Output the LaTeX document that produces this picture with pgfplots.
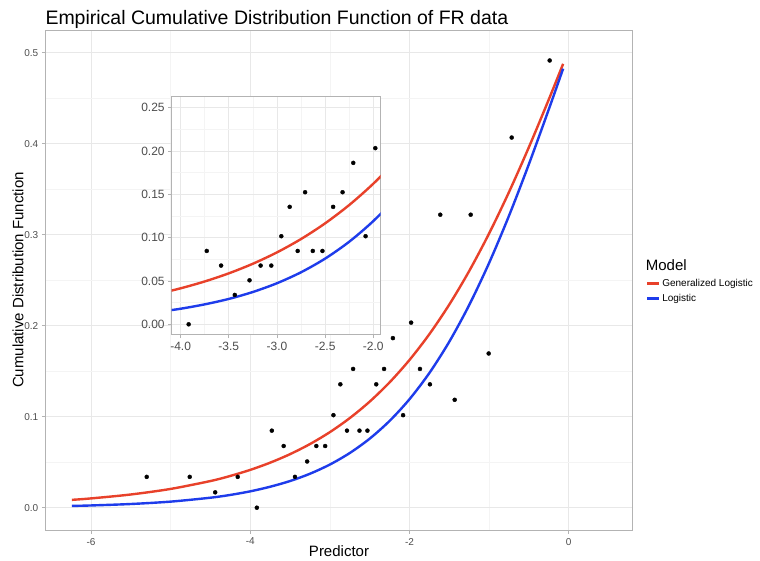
\documentclass[border=0pt]{standalone}
\usepackage{fontspec}
\setmainfont{Liberation Sans}
\usepackage{pgfplots}
\pgfplotsset{compat=1.18}
\usepackage{pgfplotstable}

\definecolor{glred}{RGB}{232,65,42}
\definecolor{lgblue}{RGB}{30,60,235}
\definecolor{ticktext}{RGB}{77,77,77}
\definecolor{gridmajor}{RGB}{232,232,232}
\definecolor{gridminor}{RGB}{244,244,244}
\definecolor{panelline}{RGB}{179,179,179}

% empirical points
\pgfplotstableread{
x y
-5.300 0.0339
-4.760 0.0339
-4.440 0.0169
-4.157 0.0339
-3.917 0.0000
-3.729 0.0847
-3.580 0.0678
-3.438 0.0339
-3.285 0.0508
-3.170 0.0678
-3.059 0.0678
-2.955 0.1017
-2.868 0.1356
-2.785 0.0847
-2.708 0.1525
-2.628 0.0847
-2.528 0.0847
-2.417 0.1356
-2.319 0.1525
-2.208 0.1864
-2.080 0.1017
-1.979 0.2034
-1.868 0.1525
-1.743 0.1356
-1.613 0.3220
-1.432 0.1186
-1.231 0.3220
-1.005 0.1695
-0.716 0.4068
-0.239 0.4915
}\ecdf

% generalized logistic fit
\pgfplotstableread{
x y
-6.24 0.00863
-6.00 0.01022
-5.50 0.01453
-5.00 0.02064
-4.50 0.02931
-4.25 0.03492
-4.00 0.04157
-3.75 0.04948
-3.50 0.05885
-3.25 0.06994
-3.00 0.08304
-2.75 0.09847
-2.50 0.11657
-2.25 0.13773
-2.00 0.16233
-1.75 0.19073
-1.50 0.22324
-1.25 0.26009
-1.00 0.30135
-0.75 0.34686
-0.50 0.39619
-0.25 0.44866
-0.07 0.48780
}\genlog

% logistic fit
\pgfplotstableread{
x y
-6.24 0.00195
-6.00 0.00247
-5.50 0.00407
-5.00 0.00669
-4.50 0.01099
-4.25 0.01406
-4.00 0.01799
-3.75 0.02304
-3.50 0.02931
-3.25 0.03733
-3.00 0.04743
-2.75 0.06009
-2.50 0.07586
-2.25 0.09535
-2.00 0.11920
-1.75 0.14805
-1.50 0.18243
-1.25 0.22270
-1.00 0.26894
-0.75 0.32082
-0.50 0.37754
-0.25 0.43782
-0.07 0.48250
}\logis

\pgfplotsset{
  panel/.style={
    scale only axis,
    axis background/.style={fill=white},
    axis line style={panelline, line width=0.7pt},
    xtick pos=left, ytick pos=left,
    tick align=outside,
    major tick length=3.5pt,
    minor tick length=0pt,
    major tick style={panelline, line width=0.7pt},
    grid=both,
    major grid style={gridmajor, line width=0.7pt},
    minor grid style={gridminor, line width=0.5pt},
    minor x tick num=1, minor y tick num=1,
    tick label style={text=ticktext},
    /pgf/number format/assume math mode=true,
  },
  fitline/.style={line width=2.4pt, smooth, no marks},
}

\begin{document}
\begin{tikzpicture}
\path[use as bounding box] (0pt,0pt) rectangle (760pt,560pt);

\begin{axis}[panel,
  clip mode=individual,
  at={(45.3pt,30pt)}, anchor=south west,
  width=587.4pt, height=500pt,
  xmin=-6.574, xmax=0.804,
  ymin=-0.0245, ymax=0.525,
  xtick={-6,-4,-2,0},
  ytick={0,0.1,0.2,0.3,0.4,0.5},
  yticklabel style={/pgf/number format/.cd, fixed, precision=1, zerofill},
  tick label style={font=\fontsize{10}{12}\selectfont},
  xticklabel style={yshift=-1pt},
  xlabel={Predictor},
  ylabel={Cumulative Distribution Function},
  label style={font=\fontsize{15}{18}\selectfont},
  xlabel style={at={(axis description cs:0.5,-0.042)}, anchor=center},
  ylabel style={at={(axis description cs:-0.0465,0.5)}, anchor=center},
  legend style={at={(1.0221,0.506)}, anchor=north west, draw=none, fill=none,
    font=\fontsize{10}{12}\selectfont, row sep=2pt, inner sep=0pt,
    cells={anchor=west}},
  legend image code/.code={\draw[#1, line width=2.4pt] (0pt,0pt) -- (12pt,0pt);},
]
\addplot[glred, fitline] table {\genlog};
\addlegendentry{Generalized Logistic}
\addplot[lgblue, fitline] table {\logis};
\addlegendentry{Logistic}
\addplot[only marks, mark=*, mark size=2pt, black, forget plot] table {\ecdf};
\node[anchor=base west, inner sep=0pt, font=\fontsize{19.5}{23}\selectfont] at (rel axis cs:0,1.012) {Empirical Cumulative Distribution Function of FR data};
\node[anchor=west, inner sep=0pt, font=\fontsize{15}{18}\selectfont] at (rel axis cs:1.0221,0.530) {Model};
\end{axis}

\begin{axis}[panel,
  at={(171.7pt,225.3pt)}, anchor=south west,
  width=209pt, height=238.7pt,
  xmin=-4.093, xmax=-1.923,
  ymin=-0.012, ymax=0.2636,
  xtick={-4,-3.5,-3,-2.5,-2},
  ytick={0,0.05,0.1,0.15,0.2,0.25},
  xticklabel style={/pgf/number format/.cd, fixed, precision=1, zerofill},
  yticklabel style={/pgf/number format/.cd, fixed, precision=2, zerofill},
  tick label style={font=\fontsize{12}{14}\selectfont},
]
\addplot[glred, fitline] table {\genlog};
\addplot[lgblue, fitline] table {\logis};
\addplot[only marks, mark=*, mark size=2pt, black] table {\ecdf};
\end{axis}
\end{tikzpicture}
\end{document}
